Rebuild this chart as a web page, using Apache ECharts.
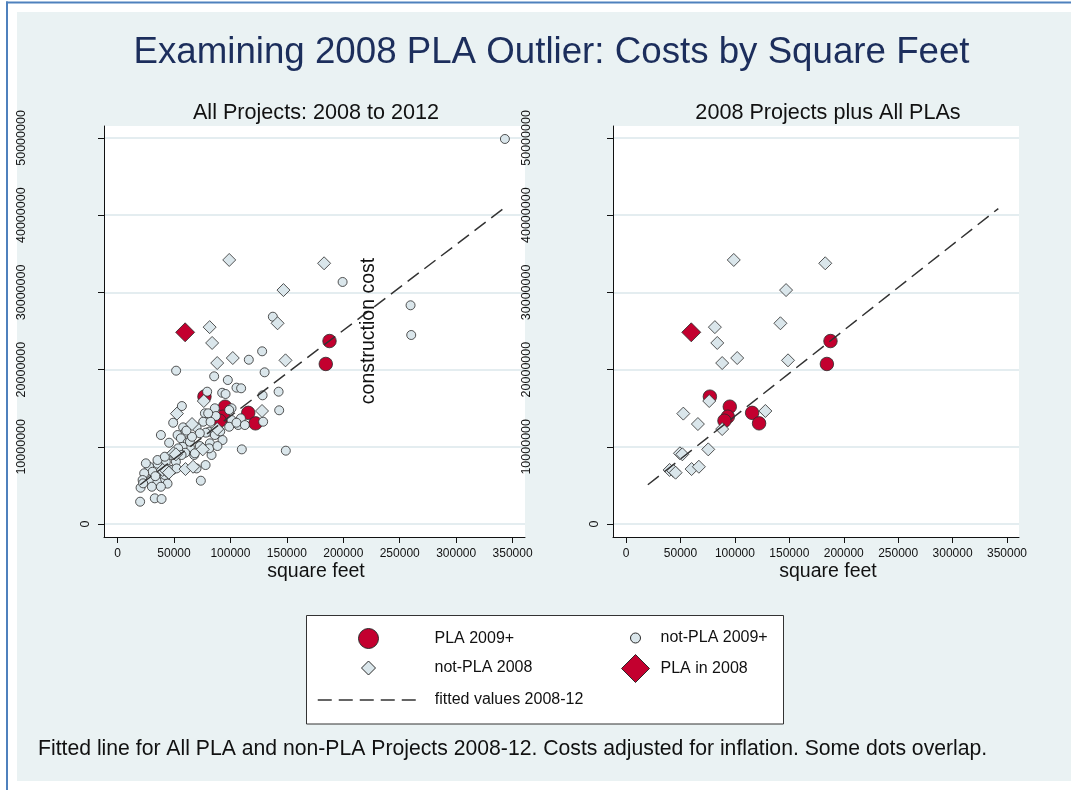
<!DOCTYPE html>
<html>
<head>
<meta charset="utf-8">
<title>Examining 2008 PLA Outlier: Costs by Square Feet</title>
<script src="https://cdn.jsdelivr.net/npm/echarts@6/dist/echarts.min.js"></script>
<style>
  html, body { margin: 0; padding: 0; background: #ffffff; }
  #chart { width: 1071px; height: 790px; }
</style>
</head>
<body>
<div id="chart"></div>
<script>
// tick values shared by both panels
var xTicks = [0, 50000, 100000, 150000, 200000, 250000, 300000, 350000];
var yTicks = [0, 10000000, 20000000, 30000000, 40000000, 50000000];

// [square feet, construction cost]
var plaNew = [
  [187800, 23700000], [184500, 20730000], [77000, 16500000], [95300, 15200000],
  [115800, 14400000], [122200, 13040000], [93500, 13900000], [90400, 13380000]
];

var otherNew = [
  [343200, 49870000], [199400, 31350000], [259600, 28330000], [260200, 24480000],
  [137600, 26850000], [128100, 22370000], [116300, 21280000], [51900, 19860000],
  [130300, 19650000], [85600, 19130000], [97700, 18650000], [105400, 17660000],
  [109500, 17580000], [142700, 17140000], [79400, 17140000], [92700, 17000000],
  [95700, 16840000], [128500, 16670000], [143200, 14730000], [57000, 15280000],
  [110100, 9670000], [149100, 9500000], [73800, 5610000], [20000, 2890000],
  [33000, 3330000], [39000, 3240000], [20400, 4700000], [78000, 7640000],
  [49300, 13120000], [101000, 14990000], [98900, 14770000], [86200, 14990000],
  [77400, 14340000], [87100, 13990000], [75900, 13250000], [82400, 13250000],
  [101000, 13470000], [109300, 13690000], [106900, 12820000], [70000, 12520000],
  [58100, 12520000], [129000, 13250000], [98900, 12600000], [105400, 13120000],
  [112800, 12820000], [81200, 11960000], [86200, 11530000], [93000, 10880000],
  [81800, 10450000], [83300, 8940000], [59900, 11830000], [78200, 11830000],
  [38400, 11530000], [53200, 11530000], [56100, 11100000], [45700, 10530000],
  [62000, 10530000], [64100, 9930000], [57600, 10000000], [72900, 10100000],
  [59900, 9230000], [67900, 8940000], [42800, 8070000], [35400, 7820000],
  [28000, 7420000], [31000, 6770000], [45700, 7080000], [38400, 6350000],
  [23600, 6570000], [22200, 5700000], [29500, 5700000], [35400, 5480000],
  [42200, 5790000], [44300, 5230000], [30400, 4830000], [38400, 4830000],
  [25100, 7860000], [51700, 8070000], [53700, 9800000], [81200, 9800000],
  [72900, 11750000], [80300, 14340000], [35400, 8290000], [22700, 5270000],
  [41900, 6350000], [48700, 7000000], [52300, 7200000], [70000, 7200000],
  [47900, 8940000], [41900, 8720000], [56700, 8940000], [64100, 10660000],
  [68500, 9160000], [66000, 11300000], [88500, 10100000], [61000, 12100000],
  [33500, 6200000], [91000, 12000000]
];

var other2008 = [
  [98950, 34200000], [183000, 33770000], [147000, 30300000], [141800, 26000000],
  [81600, 25500000], [83800, 23450000], [102100, 21500000], [88300, 20850000],
  [148800, 21200000], [76400, 15930000], [128000, 14640000], [52600, 14300000],
  [66000, 12950000], [88300, 12300000], [75500, 9670000], [49500, 9160000],
  [51700, 9030000], [60200, 7120000], [66900, 7420000], [40000, 7000000],
  [43400, 6900000], [45500, 6650000]
];

var pla2008 = [[59900, 24830000]];

var fitted = [[20000, 5090000], [342000, 40860000]];

var FONT = "'Liberation Sans', Arial, Helvetica, sans-serif";
var INK = "#111111";
var RED = "#c3002f";
var PALE = "#dae6eb";
var EDGE = "#2a2a2a";
var DIAMOND = "path://M5,0L10,5L5,10L0,5Z";

var chart = echarts.init(document.getElementById("chart"));

function plain(v) {
  return String(v);
}

function makeX(gridIndex) {
  return {
    type: "value",
    gridIndex: gridIndex,
    min: -12000,
    max: 361000,
    axisLine: { onZero: false, lineStyle: { color: INK, width: 1 } },
    axisTick: { length: 6, customValues: xTicks, lineStyle: { color: INK } },
    axisLabel: { customValues: xTicks, formatter: plain, margin: 11, color: INK, fontFamily: FONT, fontSize: 12 },
    splitLine: { show: false }
  };
}

// main y axis: line, ticks, grid lines and the "0" label
function makeY(gridIndex) {
  return {
    type: "value",
    gridIndex: gridIndex,
    position: "left",
    min: -1680000,
    max: 51550000,
    axisLine: { show: true, onZero: false, lineStyle: { color: INK, width: 1 } },
    axisTick: { show: true, length: 6, customValues: yTicks, lineStyle: { color: INK } },
    axisLabel: { customValues: [0], formatter: plain, rotate: 90, margin: 12, color: INK, fontFamily: FONT, fontSize: 12.5 },
    splitLine: { show: true, lineStyle: { color: "#e4edf0", width: 2 } }
  };
}

// second y axis on the same side, only for the long labels placed further out
function makeYLabels(gridIndex, margin) {
  return {
    type: "value",
    gridIndex: gridIndex,
    position: "left",
    offset: 0,
    min: -1680000,
    max: 51550000,
    axisLine: { show: false },
    axisTick: { show: false },
    axisLabel: { customValues: yTicks.slice(1), formatter: plain, rotate: 90, margin: margin, color: INK, fontFamily: FONT, fontSize: 12.5 },
    splitLine: { show: false }
  };
}

function scatter(name, data, gridIndex, symbol, size, color, z) {
  return {
    name: name,
    type: "scatter",
    xAxisIndex: gridIndex,
    yAxisIndex: gridIndex * 2,
    data: data,
    symbol: symbol,
    symbolSize: size,
    z: z,
    silent: true,
    itemStyle: { color: color, borderColor: EDGE, borderWidth: 0.8, opacity: 1 }
  };
}

function fitLine(gridIndex) {
  return {
    name: "fitted values 2008-12",
    type: "line",
    xAxisIndex: gridIndex,
    yAxisIndex: gridIndex * 2,
    data: fitted,
    symbol: "none",
    z: 6,
    silent: true,
    itemStyle: { color: "#333333" },
    lineStyle: { color: "#333333", width: 1.5, type: [14, 7] }
  };
}

// one legend per entry so the boxed two-column layout can be reproduced;
// icon box = icon size, text pushed right with a left padding
function legendItem(item, left, top, w, h, padLeft) {
  return {
    data: [item],
    left: left,
    top: top,
    itemWidth: w,
    itemHeight: h,
    padding: 0,
    itemGap: 0,
    selectedMode: false,
    z: 5,
    textStyle: { fontFamily: FONT, fontSize: 16, color: INK, padding: [0, 0, 0, padLeft] },
    itemStyle: { borderWidth: 1 },
    lineStyle: { width: 1.5 }
  };
}

function label(text, x, y, size, opts) {
  var o = opts || {};
  return {
    type: "text",
    x: x,
    y: y,
    rotation: o.rotation || 0,
    z: 10,
    silent: true,
    style: {
      text: text,
      fontFamily: FONT,
      fontSize: size,
      fill: o.color || INK,
      align: o.align || "center",
      verticalAlign: "middle"
    }
  };
}

var option = {
  animation: false,
  backgroundColor: "#ffffff",
  grid: [
    { left: 104, top: 126, width: 421, height: 411, show: true, backgroundColor: "#ffffff", borderWidth: 0 },
    { left: 613, top: 126, width: 406, height: 411, show: true, backgroundColor: "#ffffff", borderWidth: 0 }
  ],
  xAxis: [makeX(0), makeX(1)],
  yAxis: [makeY(0), makeYLabels(0, 76), makeY(1), makeYLabels(1, 80)],
  legend: [
    legendItem({ name: "PLA 2009+", icon: "circle" }, 358, 628, 20, 20, 51),
    legendItem({ name: "not-PLA 2009+", icon: "circle" }, 630, 630, 10, 10, 15),
    legendItem({ name: "not-PLA 2008", icon: DIAMOND }, 361, 660, 14, 14, 54),
    legendItem({ name: "PLA in 2008", icon: DIAMOND }, 621, 654, 28, 28, 6),
    legendItem({ name: "fitted values 2008-12", itemStyle: { opacity: 0 } }, 317, 692, 101, 16, 11)
  ],
  graphic: [
    { type: "rect", z: -100, silent: true, shape: { x: 17, y: 12, width: 1054, height: 769 }, style: { fill: "#eaf2f3" } },
    { type: "line", z: -90, silent: true, shape: { x1: 7, y1: 1.5, x2: 7, y2: 790 }, style: { stroke: "#4f81bd", lineWidth: 2 } },
    { type: "line", z: -90, silent: true, shape: { x1: 6, y1: 2.5, x2: 1071, y2: 2.5 }, style: { stroke: "#4f81bd", lineWidth: 2 } },
    { type: "rect", z: 1, silent: true, shape: { x: 306.5, y: 615.5, width: 477, height: 108.5 }, style: { fill: "#ffffff", stroke: "#333333", lineWidth: 1 } },
    label("Examining 2008 PLA Outlier: Costs by Square Feet", 551.5, 53, 36.7, { color: "#1c2e5c" }),
    label("All Projects: 2008 to 2012", 316, 113, 21.6),
    label("2008 Projects plus All PLAs", 828, 113, 21.6),
    label("square feet", 316, 572, 19.5),
    label("square feet", 828, 572, 19.5),
    label("construction cost", 369, 331, 19.5, { rotation: Math.PI / 2 }),
    label("Fitted line for All PLA and non-PLA Projects 2008-12. Costs adjusted for inflation. Some dots overlap.", 38, 749.5, 21.2, { align: "left" })
  ],
  series: [
    scatter("PLA 2009+", plaNew, 0, "circle", 13.5, RED, 2),
    scatter("not-PLA 2009+", otherNew, 0, "circle", 9, PALE, 3),
    scatter("not-PLA 2008", other2008, 0, "diamond", 13, PALE, 4),
    scatter("PLA in 2008", pla2008, 0, "diamond", 19, RED, 5),
    fitLine(0),
    scatter("PLA 2009+", plaNew, 1, "circle", 13.5, RED, 2),
    scatter("not-PLA 2008", other2008, 1, "diamond", 13, PALE, 4),
    scatter("PLA in 2008", pla2008, 1, "diamond", 19, RED, 5),
    fitLine(1)
  ]
};

chart.setOption(option);
</script>
</body>
</html>
